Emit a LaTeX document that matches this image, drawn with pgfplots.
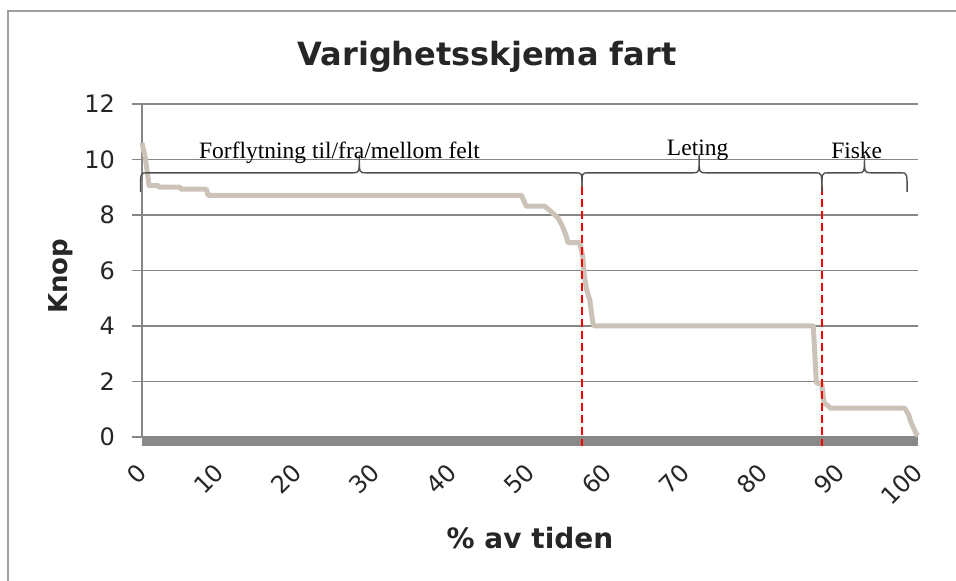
\documentclass[border=0pt]{standalone}
\usepackage{fontspec}
\setmainfont{DejaVu Sans}
\newfontfamily\annfont{Liberation Serif}
\usepackage{pgfplots}
\pgfplotsset{compat=1.18}
\definecolor{curve}{RGB}{203,195,183}
\definecolor{gridg}{RGB}{134,134,134}
\definecolor{barg}{RGB}{137,137,137}
\definecolor{frameg}{RGB}{160,160,160}
\definecolor{braceg}{RGB}{80,80,80}
\begin{document}
\begin{tikzpicture}[x=1bp,y=1bp]
\path[use as bounding box] (0,0) rectangle (956,581);
\draw[frameg, line width=1.5bp] (8,-5) -- (8,570) -- (975,570);
\begin{axis}[
  at={(142bp,144bp)}, anchor=south west,
  scale only axis, width=776bp, height=333bp,
  xmin=0, xmax=100, ymin=0, ymax=12,
  clip=false,
  axis y line*=left, axis x line*=bottom,
  y axis line style={gridg, line width=1.2bp, -},
  x axis line style={draw=none},
  ytick={0,2,...,12}, xtick={0,10,...,100},
  ymajorgrids, grid style={gridg, line width=1.2bp},
  tick align=outside, major tick length=10bp,
  ytick style={gridg, line width=1.2bp},
  xtick style={draw=none},
  /pgf/number format/assume math mode=true,
  tick label style={font=\fontsize{24bp}{28bp}\selectfont, text=black!85},
  yticklabel style={inner sep=0pt, xshift=-17bp},
  xticklabel style={anchor=east, inner sep=0pt, yshift=-21bp, rotate=45},
  title={Varighetsskjema fart},
  title style={font=\bfseries\fontsize{32bp}{36bp}\selectfont, text=black!85, at={(axis description cs:0.4446,1.098)}, anchor=base, inner sep=0pt},
  xlabel={\% av tiden},
  xlabel style={font=\bfseries\fontsize{28bp}{32bp}\selectfont, text=black!85, at={(axis description cs:0.5,-0.336)}, anchor=base, inner sep=0pt},
  ylabel={Knop},
  ylabel style={font=\bfseries\fontsize{26bp}{30bp}\selectfont, text=black!85, at={(axis description cs:-0.0954,0.483)}, anchor=base, inner sep=0pt},
]
% gray bar below zero
\addplot[draw=none, fill=barg] coordinates {(0,0) (100,0) (100,-0.33) (0,-0.33)} -- cycle;
% duration curve
\addplot[curve, line width=5bp, line join=round] coordinates {
(0,10.6) (0.2,10.35) (0.4,10.1) (0.6,9.7) (0.8,9.3) (0.9,9.06)
(2.1,9.06) (2.2,9.0) (4.9,9.0) (5.0,8.93) (8.3,8.93) (8.5,8.71)
(48.9,8.71) (49.5,8.32) (51.9,8.32) (52.8,8.1) (53.6,7.9) (54.1,7.64)
(54.6,7.3) (54.9,7.0) (56.4,7.0) (56.8,6.5) (57.0,5.8) (57.3,5.3)
(57.7,4.94) (58.1,4.1) (58.3,4.0) (86.5,4.0) (86.7,3.0) (86.9,1.95)
(87.6,1.9) (87.9,1.22) (88.3,1.15) (88.7,1.04) (98.3,1.04) (98.8,0.8)
(99.0,0.6) (99.3,0.4) (99.8,0.1) (100,0.05)
};
% red dashed separators
\addplot[red, line width=1.6bp, dash pattern=on 8bp off 4bp] coordinates {(56.7,9.0) (56.7,-0.33)};
\addplot[red, line width=1.6bp, dash pattern=on 8bp off 4bp] coordinates {(87.6,9.0) (87.6,-0.33)};
% braces
\draw[braceg, line width=1.4bp]
 (axis cs:-0.2,8.83) .. controls (axis cs:-0.2,9.52) .. (axis cs:0.6,9.52)
 -- (axis cs:27.2,9.52) .. controls (axis cs:28,9.52) .. (axis cs:28,10.16)
 .. controls (axis cs:28,9.52) .. (axis cs:28.8,9.52)
 -- (axis cs:55.9,9.52) .. controls (axis cs:56.7,9.52) .. (axis cs:56.7,9.0);
\draw[braceg, line width=1.4bp]
 (axis cs:56.7,9.0) .. controls (axis cs:56.7,9.52) .. (axis cs:57.5,9.52)
 -- (axis cs:71.0,9.52) .. controls (axis cs:71.8,9.52) .. (axis cs:71.8,10.16)
 .. controls (axis cs:71.8,9.52) .. (axis cs:72.6,9.52)
 -- (axis cs:86.8,9.52) .. controls (axis cs:87.6,9.52) .. (axis cs:87.6,8.83);
\draw[braceg, line width=1.4bp]
 (axis cs:87.6,8.83) .. controls (axis cs:87.6,9.52) .. (axis cs:88.4,9.52)
 -- (axis cs:92.3,9.52) .. controls (axis cs:93.1,9.52) .. (axis cs:93.1,10.16)
 .. controls (axis cs:93.1,9.52) .. (axis cs:93.9,9.52)
 -- (axis cs:97.8,9.52) .. controls (axis cs:98.6,9.52) .. (axis cs:98.6,8.83);
\node[font=\annfont\fontsize{23.5bp}{26bp}\selectfont, anchor=base, inner sep=0pt] at (axis cs:25.45,10.05) {Forflytning til/fra/mellom felt};
\node[font=\annfont\fontsize{23.5bp}{26bp}\selectfont, anchor=base, inner sep=0pt] at (axis cs:71.6,10.16) {Leting};
\node[font=\annfont\fontsize{23.5bp}{26bp}\selectfont, anchor=base, inner sep=0pt] at (axis cs:92.1,10.05) {Fiske};
\end{axis}
\end{tikzpicture}
\end{document}
